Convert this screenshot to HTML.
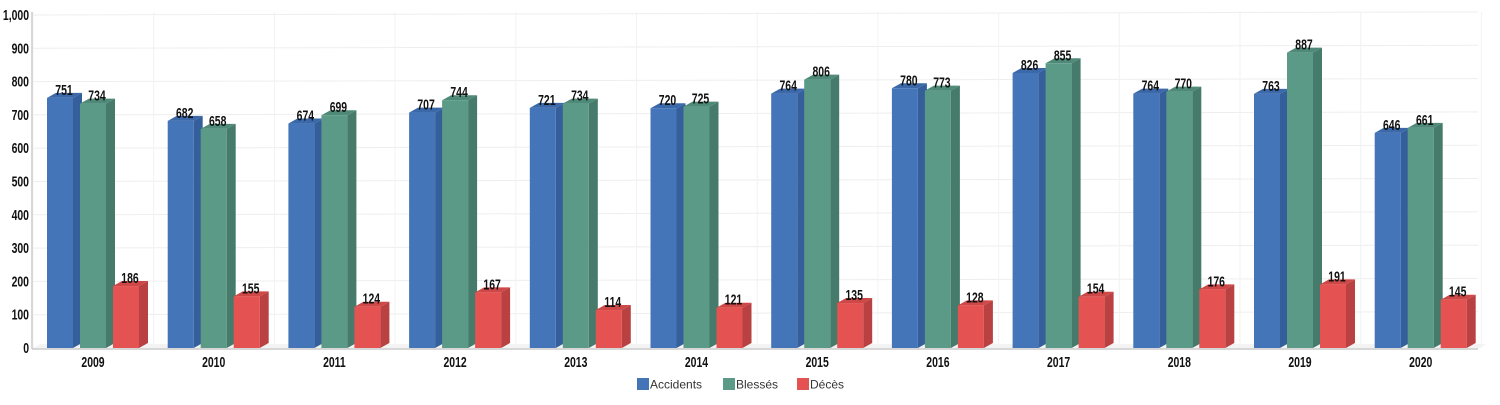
<!DOCTYPE html>
<html><head><meta charset="utf-8"><style>
html,body{margin:0;padding:0;background:#fff;width:1500px;height:405px;overflow:hidden}
svg text{font-family:"Liberation Sans",sans-serif}
.n{font-weight:bold;font-size:14.5px;fill:#111}
.lg{font-size:12px;fill:#333}
</style></head><body>
<svg id="c" width="1500" height="405" xmlns="http://www.w3.org/2000/svg"></svg>
<script>
var s=document.getElementById('c'),h='';
var Z=348,K=0.333,SC=0.72;
function Y(v){return Z-v*K;}
function T(x,y,t,anc){return '<text class="n" x="'+x+'" y="'+y+'" text-anchor="'+anc+'" transform="translate('+x+' 0) scale('+SC+' 1) translate('+(-x)+' 0)">'+t+'</text>';}
for(var v=0;v<=1000;v+=100){var y=Y(v);
 h+='<line x1="33" y1="'+y+'" x2="1478" y2="'+(y-3)+'" stroke="#eee" stroke-width="1"/>';
 h+=T(29,y+5,(v==1000?'1,000':v),'end');}
for(var i=0;i<=12;i++){var x=33+i*120.7;h+='<line x1="'+x+'" y1="12" x2="'+x+'" y2="348" stroke="#f2f2f2"/>';}
h+='<line x1="32" y1="12" x2="32" y2="349" stroke="#ccc" stroke-width="1.5"/>';
h+='<polygon points="32,349 1478,349 1486,344 40,344" fill="#f3f3f3"/>';
h+='<line x1="32" y1="349" x2="1478" y2="349" stroke="#ccc" stroke-width="1.5"/>';
var A=[751,682,674,707,721,720,764,780,826,764,763,646],
B=[734,658,699,744,734,725,806,773,855,770,887,661],
C=[186,155,124,167,114,121,135,128,154,176,191,145];
var cols=[['#4575b9','#355f9a','#3a68a8'],['#5a9a87','#467a6b','#4f8a78'],['#e45252','#b94141','#cf4848']];
var W=26,dx=9,dy=5;
function bar(x,v,c){var y=Y(v),r='';
 r+='<polygon points="'+(x+W)+','+y+' '+(x+W+dx)+','+(y-dy)+' '+(x+W+dx)+','+(Z-dy)+' '+(x+W)+','+Z+'" fill="'+c[1]+'"/>';
 r+='<polygon points="'+x+','+y+' '+(x+dx)+','+(y-dy)+' '+(x+W+dx)+','+(y-dy)+' '+(x+W)+','+y+'" fill="'+c[2]+'"/>';
 r+='<rect x="'+x+'" y="'+y+'" width="'+W+'" height="'+(Z-y)+'" fill="'+c[0]+'"/>';
 r+=T(x+W/2+4,y-3,v,'middle');
 return r;}
for(var i=0;i<12;i++){var x0=47+i*120.7;
 h+=bar(x0,A[i],cols[0]);h+=bar(x0+33,B[i],cols[1]);h+=bar(x0+66,C[i],cols[2]);
 h+=T(x0+46,367,2009+i,'middle');}
var L=[[637,'Accidents',0],[723,'Blessés',1],[797,'Décès',2]];
L.forEach(function(l){h+='<rect x="'+l[0]+'" y="378" width="12" height="12" fill="'+cols[l[2]][0]+'"/><text class="lg" x="'+(l[0]+13)+'" y="388.5">'+l[1]+'</text>';});
s.innerHTML=h;
</script>
</body></html>
